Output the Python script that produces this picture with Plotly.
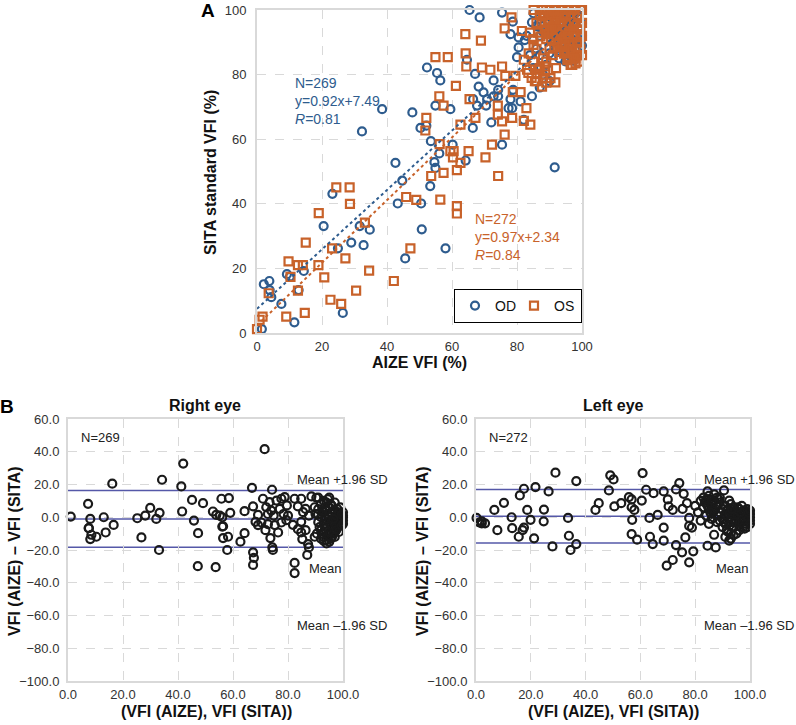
import plotly.graph_objects as go

# ---- Panel A : AIZE VFI vs SITA standard VFI ----
od_x = [1.5, 2.1, 3.8, 3.9, 4.4, 7.5, 9.2, 10.1, 11.5, 12.8, 14.4, 20.5, 23.2, 24.9, 26.4, 29.0, 31.6, 32.8, 34.7,
        43.3, 45.6, 50.5, 50.7, 58.0,
        65.4, 68.5, 75.4, 78.7, 85.1, 84.6, 80.5, 82.4, 78.0, 80.5, 80.0, 64.6, 52.3, 55.4, 56.4, 67.1, 72.8, 68.2,
        69.7, 74.2, 72.8, 74.2, 70.8, 78.0, 78.8, 81.1, 84.6, 77.4, 78.5, 67.7, 66.5, 70.5, 54.9, 59.5, 47.8, 38.5,
        32.3, 50.3, 52.1, 66.4, 72.1, 82.1, 53.5, 60.2, 56.1, 54.6, 54.9, 53.3, 42.6, 44.7, 64.2, 75.4, 91.6,
        86, 87, 88, 88, 89, 90, 90, 91, 91, 92, 92, 93, 93, 93, 94.9, 94, 94, 95, 95, 95, 96, 96, 96, 97.4, 97, 97,
        97.4, 98, 98, 98, 98, 99.5, 99, 99, 100, 100, 100, 89, 87, 91, 92, 94, 96, 99, 100, 86, 83, 84, 85, 88, 90, 87]
od_y = [1.2, 15.1, 16.1, 13.3, 11.1, 9.0, 18.2, 17.4, 3.3, 13.3, 19.2, 33.1, 43.1, 26.2, 6.2, 28.0, 33.1, 27.2, 32.0,
        40.1, 23.1, 40.1, 32.1, 26.2,
        100, 97.7, 99.2, 96.4, 99, 96.2, 91.5, 90.7, 92.5, 88.4, 85.4, 84.6, 82.2, 80.5, 78.2, 80.2, 78.2, 76.3,
        74.5, 75.3, 73.3, 73.3, 72.4, 72.4, 75.3, 71.7, 73.3, 69.6, 69.6, 70.4, 72.4, 70.4, 70.4, 69.3, 68.3, 69.3,
        62.4, 63.5, 64.2, 63.5, 65.2, 66.0, 59.4, 58.3, 55.6, 52.9, 51.1, 45.5, 52.7, 47.2, 53.4, 58.3, 51.3,
        88, 92, 93.3, 95, 97, 86.6, 99, 94, 90, 88, 96, 92, 98, 85, 84.1, 90, 95, 93, 97, 88, 91, 99, 86, 90.7, 94, 97,
        84.3, 92, 96, 99, 88, 90.7, 94, 98, 92, 96, 100, 83, 86, 97, 100, 99, 95, 86, 89, 95, 92, 86, 82, 80, 78, 76]

os_x = [0.0, 0.8, 1.7, 3.6, 9.0, 9.7, 10.3, 12.6, 12.6, 14.1, 14.7, 15.0, 19.0, 18.9, 20.7, 22.6, 23.1, 24.4, 27.2,
        25.9, 28.5, 28.6, 30.5, 33.2, 34.5, 42.1, 45.9, 49.0, 47.2, 56.4, 61.5, 61.5,
        85.1, 88.0, 78.3, 76.2, 81.5, 64.1, 68.9, 54.9, 58.7, 64.2, 64.4, 69.2, 71.8, 75.4, 76.4, 79.5, 83.1, 86.2,
        88.7, 90.3, 91.8, 87.7, 82.1, 85.1, 83.6, 61.2, 56.1, 57.4, 65.4, 74.1, 78.7, 81.1, 82.9, 74.1, 67.2, 75.4,
        78.5, 82.1, 84.1, 62.6, 52.1, 51.8, 76.2, 72.3, 56.2, 59.5, 60.5, 65.1, 70.3, 60.3, 62.6, 61.5, 57.4, 53.6,
        74.2,
        88, 89, 90, 90, 91, 91, 92, 92, 92, 93, 93, 93, 94, 94, 94, 94, 95, 95, 95, 95, 96, 96, 96, 96, 96, 97, 97, 97,
        97, 97, 98, 98, 98, 98, 98, 99, 99, 99, 99, 100, 100, 100, 100, 86, 87, 84, 85, 86, 88, 87, 89, 90, 91, 92,
        93, 89, 90, 85, 86, 88, 98, 87.2,
        88.5, 89.5, 90.5, 91.5, 92.5, 93.5, 94.5, 95.5, 96.5, 97.5, 98.5, 99.5, 91.5, 92.5, 93.5, 94.5, 95.5, 96.5,
        97.5, 98.5, 99.5, 99.5, 97.5, 95.5, 93.5, 91.5, 90.5, 89.5, 88.5, 87.5, 86.5, 99.5, 98.5, 97.5, 96.5, 95.5,
        94.5, 93.5, 92.5, 91.5, 90.5, 84.5, 86.5, 88.5, 89.0, 85.5, 83.5]
os_y = [1.2, 4.1, 5.1, 12.3, 5.1, 22.2, 17.4, 21.0, 13.1, 21.0, 6.2, 28.0, 37.1, 21.0, 17.2, 10.3, 26.2, 45.1, 23.1,
        9.0, 45.1, 40.0, 13.1, 34.2, 19.3, 16.1, 42.1, 41.2, 26.2, 41.3, 39.3, 37.0,
        100, 100, 97.7, 94.3, 93.5, 92.5, 90.5, 85.4, 85.4, 86.6, 82.5, 82.2, 81.5, 82.5, 79.6, 79.6, 81.5, 80.2,
        80.9, 78.9, 77.6, 76.3, 84.6, 89.2, 86.6, 76.5, 73.3, 70.4, 72.4, 70.4, 74.6, 74.6, 69.6, 67.6, 66.6, 65.5,
        66.6, 65.7, 64.5, 64.5, 66.6, 62.7, 61.4, 58.3, 58.5, 56.3, 56.3, 56.3, 54.4, 54.4, 52.7, 50.4, 49.6, 48.6,
        48.6,
        98, 100, 97, 100, 95, 99, 93, 97, 100, 91, 95, 98, 89, 93, 96, 100, 87, 91, 94, 98, 85, 89, 92, 96, 100, 83, 87, 90,
        94, 98, 85, 88, 92, 96, 100, 84, 90, 94, 98, 86, 92, 96, 100, 96, 99, 93, 91, 88, 85, 82, 84, 88, 86, 82,
        87, 91, 93, 84, 78, 79, 83.5, 91.8,
        99, 96, 98.5, 96.5, 99, 96.5, 98.5, 96, 98.5, 95.5, 98, 95, 92, 94, 92.5, 90, 92.5, 88, 92.5, 90, 88, 100,
        100, 100, 100, 100, 94, 92.5, 94, 96, 93, 91.5, 86, 85, 83, 84.5, 86.5, 88.5, 90, 88.5, 90.5, 79, 81.5, 82.5,
        77.5, 78, 80.5]

od_slope, od_icpt = 0.92, 7.49
os_slope, os_icpt = 0.97, 2.34
fit_x = [0, 100]

# ---- Panel B : Bland-Altman ----
right_x = [1.0, 7.3, 8.1, 13.0, 16.1, 7.5, 16.6, 25.2, 28.1, 29.9, 32.1, 33.3, 34.2, 41.2, 41.9, 41.5, 45.1, 45.8,
           49.1, 52.7, 53.9, 55.2, 56.1, 55.8, 58.5, 59.0, 56.4, 64.2, 66.9, 71.5, 74.2,
           7.6, 8.5, 8.1, 10.3, 13.7, 26.7, 33.1, 47.3, 47.2, 53.7, 56.1, 56.4, 58.2, 57.9, 62.7, 64.2, 67.3, 67.6,
           67.3, 69.1, 71.8, 73.6, 74.3, 74.5, 76.4, 75.2, 82.4, 82.4, 87.0, 87.3, 87.6, 84.8, 85.2, 86.4, 89.7,
           67.3, 69.1, 70.9, 72.1, 72.7, 73.3, 73.9, 74.8, 75.8, 77.0, 77.6, 78.4, 78.8, 79.6, 80.0, 82.4, 83.6, 84.8,
           85.5, 86.4, 87.6, 88.5, 89.7, 90.3, 90.9, 68.2, 70.3, 72.7, 77.6, 79.4, 81.8, 83.6, 84.8,
           90, 91, 91, 92, 92, 92, 93, 93, 93, 93, 94, 94, 94, 94, 94, 95, 95, 95, 95, 95, 96, 96, 96, 96, 96, 97, 97, 97,
           97, 97, 98, 98, 98, 98, 99, 99, 99, 99, 100, 100, 100, 100, 91, 92, 95, 93,
           93.5, 94.5, 95.5, 96.5, 97.5, 98.5, 99.5, 93.5, 94.5, 95.5, 96.5, 97.5, 98.5, 99.5, 92.5, 93.5, 94.5, 96.5,
           97.5, 98.5, 99.5, 100, 92.5, 91.5, 90.5, 95.5, 97, 94, 93]
right_y = [0.4, 8.2, -1.0, 0.0, 20.5, -6.6, -4.7, -0.6, 1.0, 5.7, -1.0, 2.7, 22.9, 18.8, 32.8, 3.5, 10.6, -2.0,
           8.6, 3.5, 1.4, 1.0, 0.0, 11.3, 11.7, 2.7, -5.5, 3.7, 18.0, 41.6, 16.8,
           -6.7, -10.7, -13.3, -11.9, -9.3, -12.3, -20.0, -9.7, -29.9, -30.5, -5.7, -12.7, -11.9, -20.0, -14.9, -9.7,
           -21.4, -24.8, -29.1, -4.8, -7.9, -12.7, -18.4, -20.0, -9.3, -4.8, -27.9, -34.1, -23.0, -16.4, -18.4, -9.3,
           -13.3, -7.9, -11.9,
           6.6, 1.4, 11.3, 6.1, 2.0, 9.2, 4.1, 1.0, 10.2, 5.1, 11.3, 2.0, 12.3, 7.2, 1.0, 11.3, 6.6, 11.3,
           3.1, 5.1, 1.0, 12.7, 6.1, 11.9, 2.0, -2.8, -3.2, -4.2, -3.2, -1.8, -4.6, -7.3, -2.8,
           2, -3, 5, -8, 0, 8, -12, -4, 3, 10, -14, -6, -1, 4, 9, -10, -3, 1, 6, 12, -12, -7, -2, 2, 7, -9, -4, 0,
           4, 9, -6, -2, 1, 5, -4, -1, 2, 6, -2, 0, 3, 1, 12, -13, -15, -9,
           -7, -11, -5, -10, -6, -3, -1, 6, 2, 8, 4, 1, 3, 1.5, -10, -1, 11, -1, -8, -9, -5, -4, 4, -6, -10, -13,
           -12, -16, -14.5]

left_x = [0.2, 2.1, 3.3, 6.7, 10.2, 13.0, 16.0, 17.5, 18.7, 19.9, 21.7, 24.7, 24.8, 26.5, 29.0, 33.6, 36.6, 43.6,
          44.8, 48.5, 49.0, 50.2, 50.5, 53.0, 55.8, 56.8, 56.8, 57.8, 60.5, 60.8, 62.1, 64.8, 68.5, 70.0, 70.3, 71.8,
          73.0, 74.2, 75.8, 75.4, 77.0, 77.8, 63.3, 66.3, 57.0, 84.5, 90.5, 92.4,
          1.2, 2.1, 7.8, 13.2, 15.6, 17.0, 17.5, 21.2, 27.9, 33.9, 34.5, 36.6, 56.8, 58.8, 63.5, 64.5, 68.5, 68.5,
          69.6, 71.8, 73.0, 75.2, 76.4, 77.8, 79.3, 77.8, 78.8, 84.5, 87.5, 86.9, 92.4,
          80, 81, 82, 82, 83, 83, 84, 84, 85, 85, 85, 86, 86, 86, 87, 87, 88, 88, 88, 89, 89, 89, 90, 90, 90, 91, 91, 91,
          92, 92, 92, 93, 93, 93, 94, 94, 94, 95, 95, 95, 96, 96, 96, 97, 97, 97, 98, 98, 98, 99, 99, 99, 100, 100, 100,
          91, 93, 94,
          86.5, 87.5, 88.5, 84.5, 83.5, 85.5, 90.5, 91.5, 92.5, 93.5, 94.5, 95.5, 96.5, 97.5, 98.5, 99.5, 99.5, 98.5,
          97.5, 96.5, 95.5, 94.5, 93.5, 92.5, 91.5, 100, 100, 99, 96, 93, 88, 87, 85, 84, 89, 86]
left_y = [-0.4, -2.5, -3.7, 4.5, 8.8, 0.0, 13.3, 17.4, 4.5, -1.6, 18.4, -2.5, 4.7, 15.8, 27.2, -0.4, 22.1, 4.5,
          8.6, 16.4, 25.6, 23.1, 6.6, 8.6, 12.3, 10.9, 6.1, 4.5, 10.2, 27.0, 16.8, 14.7, 15.8, 10.9, 6.6, 4.5,
          17.0, 20.9, 14.3, 5.1, 8.6, -0.4, -0.4, 1.4, -1.6, 15.8, 16.4, 10.2,
          -3.2, -3.8, -7.9, -6.7, -11.9, -7.9, -6.3, -12.9, -17.8, -11.3, -20.0, -16.4, -10.3, -13.7, -11.9, -16.4,
          -6.3, -14.3, -29.5, -26.1, -17.0, -21.4, -12.3, -27.5, -20.8, -5.3, -6.3, -17.4, -18.4, -10.7, -14.3,
          7, 3, 10, -2, 6, 12, 1, 9, -4, 5, 11, 2, 8, -1, 10, 4, -3, 7, 1, 9, -2, 3, 5, -1, -6, 2, 7, -4,
          0, 5, -9, -3, 3, 8, -6, 1, 6, -2, 3, -10, 0, 5, -5, -3, 2, 7, -1, 4, -7, 1, -3, 5, 0, 2, -2,
          -12, -13, -11,
          5, 8, 11, 7, 9, 3, -3, 4, 2, -1, 4, 1, -2, 4, 1, -1, 3, -4, -6, 3, 6, -3, 5, -5, -8, 4, -4, -6, -8, -10,
          12, 14, 13, 11, 12, 10.5]

right_mean, right_upper, right_lower = -1.0, 16.3, -18.3
left_mean, left_upper, left_lower = 0.6, 16.9, -15.7

# colours
od_color = "#2E5C8E"
os_color = "#C8622A"
ba_color = "#5558A8"
grid_color = "#d9d9d9"
font_family = "Liberation Sans, Arial, sans-serif"

W, H = 796, 725


def px(xp):
    return xp / W


def py(yp):
    return 1 - yp / H


fig = go.Figure()

fig.add_trace(go.Scatter(x=od_x, y=od_y, mode="markers", name="OD", cliponaxis=False, legendwidth=14,
                         marker=dict(symbol="circle-open", size=8, color=od_color, line=dict(width=2.2)),
                         xaxis="x", yaxis="y"))
fig.add_trace(go.Scatter(x=os_x, y=os_y, mode="markers", name="OS", cliponaxis=False, legendwidth=22,
                         marker=dict(symbol="square-open", size=8, color=os_color, line=dict(width=2.2)),
                         xaxis="x", yaxis="y"))
fig.add_trace(go.Scatter(x=fit_x, y=[od_icpt + od_slope * v for v in fit_x], mode="lines", showlegend=False,
                         line=dict(color=od_color, width=2, dash="dot"), xaxis="x", yaxis="y"))
fig.add_trace(go.Scatter(x=fit_x, y=[os_icpt + os_slope * v for v in fit_x], mode="lines", showlegend=False,
                         line=dict(color=os_color, width=2, dash="dot"), xaxis="x", yaxis="y"))

fig.add_trace(go.Scatter(x=right_x, y=right_y, mode="markers", showlegend=False, cliponaxis=False,
                         marker=dict(symbol="circle-open", size=8, color="#1a1a1a", line=dict(width=2.2)),
                         xaxis="x2", yaxis="y2"))
fig.add_trace(go.Scatter(x=left_x, y=left_y, mode="markers", showlegend=False, cliponaxis=False,
                         marker=dict(symbol="circle-open", size=8, color="#1a1a1a", line=dict(width=2.2)),
                         xaxis="x3", yaxis="y3"))

# Bland-Altman limit lines
for xa, ya, vals in [("x2", "y2", [right_upper, right_mean, right_lower]),
                     ("x3", "y3", [left_upper, left_mean, left_lower])]:
    for v in vals:
        fig.add_shape(type="line", xref=xa + " domain", yref=ya, x0=0, x1=1, y0=v, y1=v,
                      line=dict(color=ba_color, width=1.5), layer="below")

axis_common = dict(showline=True, linecolor=grid_color, linewidth=2, mirror=True, ticks="",
                   showgrid=True, gridcolor=grid_color, griddash="dash", gridwidth=1, zeroline=False,
                   automargin=False,
                   tickfont=dict(size=13, color="#333333", family=font_family))

fig.update_layout(
    width=W, height=H,
    margin=dict(l=0, r=0, t=0, b=0),
    paper_bgcolor="white", plot_bgcolor="white",
    font=dict(family=font_family, color="#222222"),
    xaxis=dict(domain=[px(257), px(582)], range=[0, 100], dtick=20, anchor="y", **axis_common),
    yaxis=dict(domain=[py(333), py(10)], range=[0, 100], dtick=20, anchor="x", ticklabelstandoff=6, **axis_common),
    xaxis2=dict(domain=[px(68), px(343)], range=[0, 100], dtick=20, tickformat=".1f", anchor="y2", **axis_common),
    yaxis2=dict(domain=[py(681), py(419)], range=[-100, 60], dtick=20, tickformat=".1f", anchor="x2",
                ticklabelstandoff=4, **axis_common),
    xaxis3=dict(domain=[px(476), px(750)], range=[0, 100], dtick=20, tickformat=".1f", anchor="y3", **axis_common),
    yaxis3=dict(domain=[py(681), py(419)], range=[-100, 60], dtick=20, tickformat=".1f", anchor="x3",
                ticklabelstandoff=4, **axis_common),
    legend=dict(x=px(454), y=py(289), xanchor="left", yanchor="top", orientation="h",
                bordercolor="black", borderwidth=1, bgcolor="white",
                font=dict(size=14, color="#111111"), itemwidth=30,
                entrywidthmode="pixels", tracegroupgap=0),
    showlegend=True,
)

ann = []
bold = dict(family=font_family, size=16, color="#111111")
# panel letters
ann.append(dict(text="<b>A</b>", x=px(208), y=py(10), font=dict(family=font_family, size=19, color="black")))
ann.append(dict(text="<b>B</b>", x=px(7), y=py(406), font=dict(family=font_family, size=19, color="black")))
# axis titles
ann.append(dict(text="<b>SITA standard VFI (%)</b>", x=px(210), y=py(172), textangle=-90, font=bold))
ann.append(dict(text="<b>AIZE VFI (%)</b>", x=px(420), y=py(362), font=bold))
ann.append(dict(text="<b>Right eye</b>", x=px(205), y=py(405), font=bold))
ann.append(dict(text="<b>Left eye</b>", x=px(613), y=py(405), font=bold))
ann.append(dict(text="<b>VFI (AIZE) – VFI (SITA)</b>", x=px(14), y=py(552), textangle=-90, font=bold))
ann.append(dict(text="<b>VFI (AIZE) – VFI (SITA)</b>", x=px(422), y=py(552), textangle=-90, font=bold))
ann.append(dict(text="<b>(VFI (AIZE), VFI (SITA))</b>", x=px(206), y=py(711), font=bold))
ann.append(dict(text="<b>(VFI (AIZE), VFI (SITA))</b>", x=px(613), y=py(711), font=bold))
for a in ann:
    a.update(xref="paper", yref="paper", showarrow=False, xanchor="center", yanchor="middle")

reg_font = dict(family=font_family, size=14)
ann2 = [
    dict(text="N=269<br>y=0.92x+7.49<br><i>R</i>=0.81", xref="x", yref="y", x=11.1, y=80.5,
         xanchor="left", yanchor="top", align="left", font=dict(color=od_color, **reg_font)),
    dict(text="N=272<br>y=0.97x+2.34<br><i>R</i>=0.84", xref="x", yref="y", x=66.5, y=38.5,
         xanchor="left", yanchor="top", align="left", font=dict(color=os_color, **reg_font)),
]
small = dict(family=font_family, size=13, color="#222222")
for xa, ya, n in [("x2", "y2", "N=269"), ("x3", "y3", "N=272")]:
    ann2.append(dict(text=n, xref=xa, yref=ya, x=4, y=48.5, xanchor="left", yanchor="middle", font=small))
    ann2.append(dict(text="Mean +1.96 SD", xref=xa, yref=ya, x=82.6, y=23, xanchor="left", yanchor="middle", font=small))
    ann2.append(dict(text="Mean", xref=xa, yref=ya, x=87, y=-31.3, xanchor="left", yanchor="middle", font=small))
    ann2.append(dict(text="Mean –1.96 SD", xref=xa, yref=ya, x=82.6, y=-66.2, xanchor="left", yanchor="middle", font=small))
for a in ann2:
    a.update(showarrow=False)

fig.update_layout(annotations=ann + ann2)

# the page body has a default 8px margin; remove it so the figure sits at the window origin
fig.write_html("out.html", config={"displayModeBar": False},
               post_script="document.body.style.margin='0px';")
